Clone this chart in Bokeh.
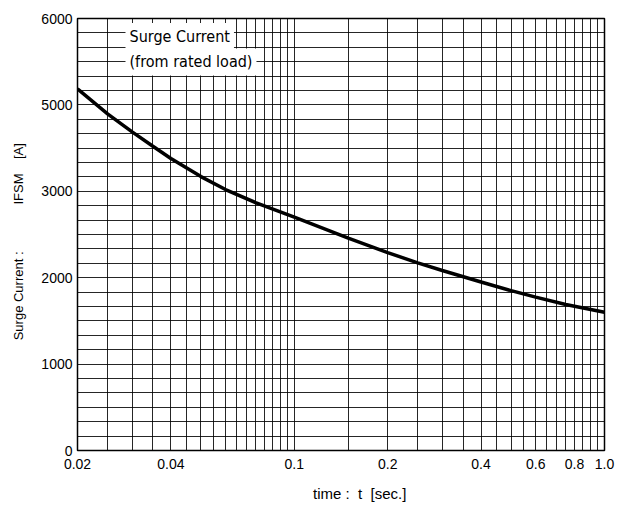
from bokeh.plotting import figure
from bokeh.models import FixedTicker, CustomJSTickFormatter, Label
from bokeh.embed import file_html
from bokeh.resources import INLINE

# ---- data ----
time_s = [0.02, 0.025, 0.03, 0.035, 0.04, 0.05, 0.06, 0.075, 0.1, 0.15,
          0.2, 0.25, 0.3, 0.4, 0.5, 0.6, 0.75, 1.0]
surge_current = [4186, 3896, 3688, 3522, 3380, 3170, 3020, 2870, 2700, 2455,
                 2290, 2172, 2083, 1950, 1850, 1775, 1690, 1600]

x_ticks = [0.02, 0.04, 0.1, 0.2, 0.4, 0.6, 0.8, 1.0]
y_ticks = [0, 1000, 2000, 3000, 4000, 5000]
y_tick_labels = ["0", "1000", "2000", "3000", "5000", "6000"]

x_grid = ([round(0.02 + 0.005 * k, 3) for k in range(17)] + [0.15]
          + [round(0.2 + 0.05 * k, 2) for k in range(17)])
y_grid = [1000.0 * k / 6 for k in range(31)]

annot_line1 = "Surge Current"
annot_line2 = "(from rated load)"

FONT = "Liberation Sans"
NB = "\u00a0"

p = figure(width=617, height=507, x_axis_type="log",
           x_range=(0.02, 1.0), y_range=(0, 5000),
           output_backend="svg", toolbar_location=None,
           min_border_left=77, min_border_right=13,
           min_border_top=18, min_border_bottom=57)

p.background_fill_color = "white"
p.border_fill_color = "white"
p.outline_line_color = "black"
p.outline_line_width = 1.5

# grids
p.xgrid.ticker = FixedTicker(ticks=x_grid)
p.ygrid.ticker = FixedTicker(ticks=y_grid)
for g in (p.xgrid, p.ygrid):
    g.grid_line_color = "black"
    g.grid_line_alpha = 0.85
    g.grid_line_width = 1

# axes
p.xaxis.ticker = FixedTicker(ticks=x_ticks)
p.xaxis.formatter = CustomJSTickFormatter(
    code="return tick >= 1 ? tick.toFixed(1) : tick.toString();")
p.yaxis.ticker = FixedTicker(ticks=y_ticks)
p.yaxis.major_label_overrides = {v: s for v, s in zip(y_ticks, y_tick_labels)}

for ax in (p.xaxis, p.yaxis):
    ax.axis_line_color = None
    ax.major_tick_line_color = None
    ax.minor_tick_line_color = None
    ax.major_tick_out = 0
    ax.major_tick_in = 0
    ax.major_label_text_font = FONT
    ax.major_label_text_font_size = "14px"
    ax.major_label_text_color = "black"
    ax.axis_label_text_font = FONT
    ax.axis_label_text_font_style = "normal"
    ax.axis_label_text_color = "black"

p.xaxis.major_label_standoff = 8
p.yaxis.major_label_standoff = 5
p.xaxis.axis_label = NB * 9 + "time" + NB + ":" + NB + " t" + NB + " [sec.]"
p.xaxis.axis_label_text_font_size = "15px"
p.xaxis.axis_label_standoff = 13
p.yaxis.axis_label = ("Surge Current :" + NB * 12 + " IFSM" + NB * 3
                      + " [A]" + NB * 4)
p.yaxis.axis_label_text_font_size = "13px"
p.yaxis.axis_label_standoff = 12

# curve
p.line(time_s, surge_current, line_width=3.5, line_color="black")

# annotation box
for txt, yv in ((annot_line1, 4792), (annot_line2, 4497)):
    p.add_layout(Label(x=0.02, y=yv, x_offset=48, text=txt,
                       text_font="DejaVu Sans Condensed", text_font_size="16px",
                       text_color="black", text_baseline="middle",
                       background_fill_color="white", padding=4))

open("out.html", "w").write(file_html(p, INLINE))
